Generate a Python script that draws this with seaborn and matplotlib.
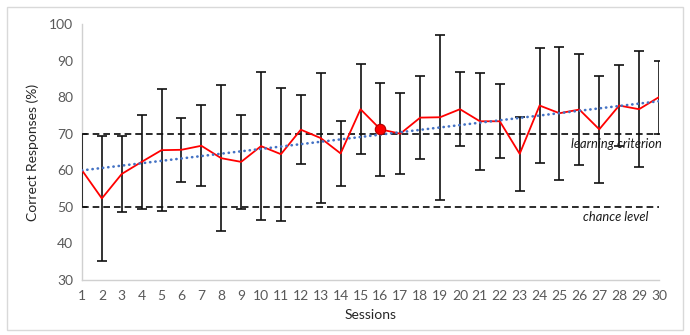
import numpy as np
import pandas as pd
import matplotlib
matplotlib.use("Agg")
import matplotlib.pyplot as plt
from matplotlib.patches import Rectangle
import seaborn as sns

# Mean percentage of correct responses per session and its spread
sessions = list(range(1, 31))
mean_correct = [60.0, 52.3, 59.0, 62.3, 65.5, 65.6, 66.7, 63.3, 62.3, 66.6,
                64.4, 71.1, 68.8, 64.6, 76.7, 71.2, 70.0, 74.4, 74.5, 76.7,
                73.4, 73.4, 64.5, 77.7, 75.6, 76.6, 71.2, 77.7, 76.7, 80.0]
error = [10.0, 17.1, 10.5, 12.9, 16.6, 8.8, 11.1, 20.0, 12.9, 20.2,
         18.2, 9.4, 17.8, 8.9, 12.3, 12.7, 11.1, 11.4, 22.5, 10.1,
         13.2, 10.1, 10.2, 15.6, 18.2, 15.1, 14.6, 11.0, 15.8, 10.0]
highlight_session = 16
learning_criterion = 70
chance_level = 50
y_ticks = [30, 40, 50, 60, 70, 80, 90, 100]

df = pd.DataFrame({"Sessions": sessions, "Correct": mean_correct, "Err": error})

sns.set_theme(style="white")
plt.rcParams["font.family"] = ["Lato", "DejaVu Sans"]

fig = plt.figure(figsize=(6.9, 3.35), dpi=100)
ax = fig.add_axes([0.1188, 0.1642, 0.8362, 0.7642])

# outer chart frame
fig.patches.append(Rectangle((7 / 690, 5 / 335), 676 / 690, 323 / 335,
                             transform=fig.transFigure, fill=False,
                             edgecolor="#D9D9D9", linewidth=1.0))

# reference levels
for level in (learning_criterion, chance_level):
    ax.axhline(level, color="#1a1a1a", linewidth=1.3, dashes=(3.7, 2.2), zorder=2)

# error bars
ax.errorbar(df["Sessions"], df["Correct"], yerr=df["Err"], fmt="none",
            ecolor="#111111", elinewidth=1.2, capsize=3.5, capthick=1.2, zorder=3)

# session means
sns.lineplot(data=df, x="Sessions", y="Correct", ax=ax, color="#FF0000",
             linewidth=1.3, zorder=4)

# linear trend
sns.regplot(data=df, x="Sessions", y="Correct", ax=ax, scatter=False, ci=None,
            truncate=True,
            line_kws=dict(color="#4472C4", linewidth=1.9,
                          linestyle=(0, (0.1, 1.9)), dash_capstyle="round",
                          zorder=5))

# highlighted session
hl = df[df["Sessions"] == highlight_session]
ax.plot(hl["Sessions"], hl["Correct"], "o", markersize=7.5,
        markerfacecolor="#FF0000", markeredgecolor="#B00000",
        markeredgewidth=0.8, zorder=6)

ax.text(30.15, 68.9, "learning criterion", ha="right", va="top",
        fontsize=9.3, style="italic", color="#1a1a1a", zorder=7)
ax.text(29.45, 48.9, "chance level", ha="right", va="top",
        fontsize=9.3, style="italic", color="#1a1a1a", zorder=7)

ax.set_xlim(1, 30)
ax.set_ylim(30, 100)
ax.set_xticks(sessions)
ax.set_yticks(y_ticks)
ax.set_xlabel("Sessions", fontsize=10, color="#262626", labelpad=5)
ax.set_ylabel("Correct Responses (%)", fontsize=10, color="#262626", labelpad=7)

for side in ("top", "right"):
    ax.spines[side].set_visible(False)
for side in ("left", "bottom"):
    ax.spines[side].set_color("#D0D0D0")
    ax.spines[side].set_linewidth(1.0)
ax.tick_params(axis="both", which="major", direction="out", length=3,
               width=1.0, color="#D0D0D0", labelcolor="#595959", labelsize=10)
ax.tick_params(axis="x", pad=4)
ax.grid(False)

fig.savefig("out.png", dpi=100)
